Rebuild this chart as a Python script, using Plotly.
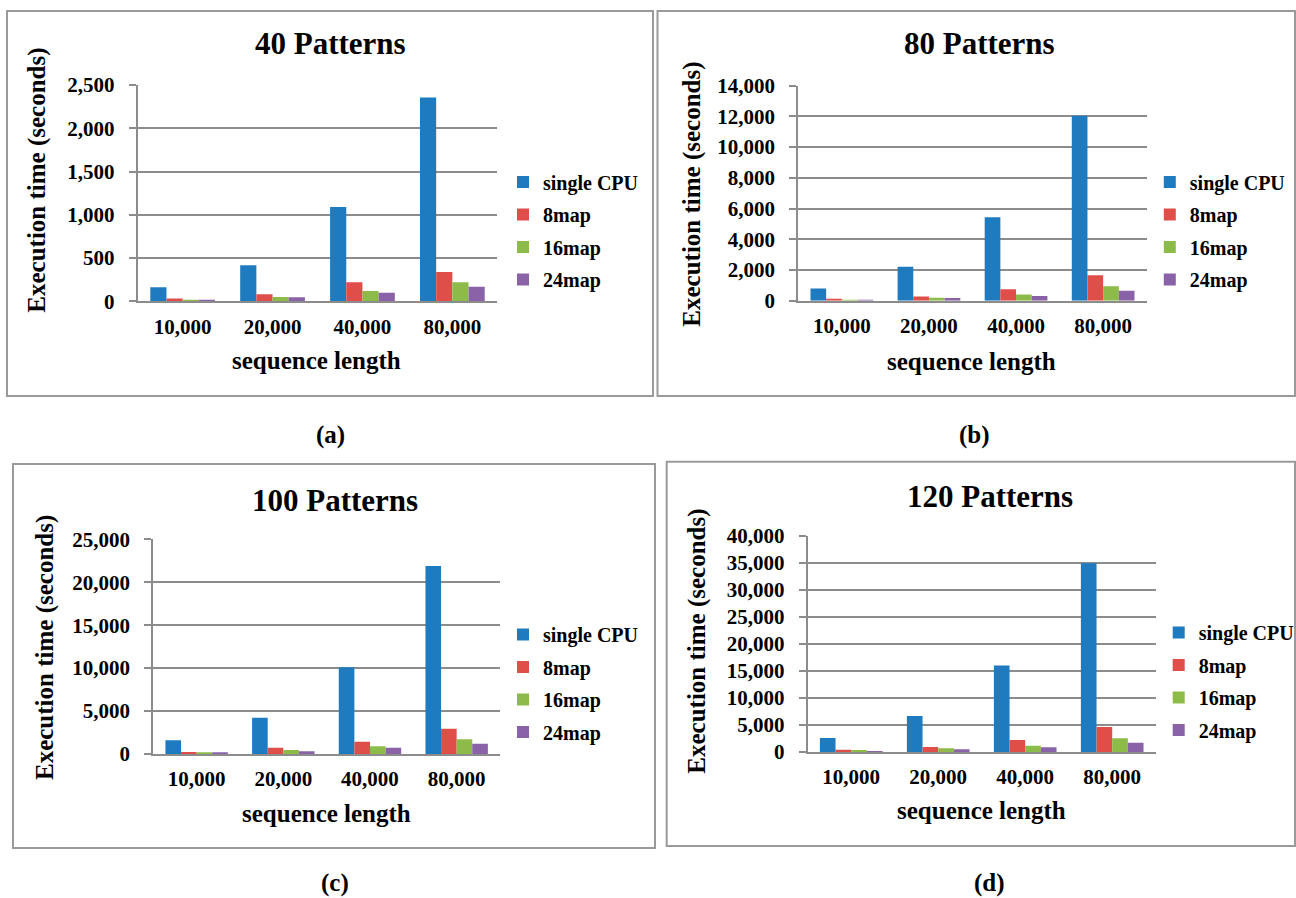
import plotly.graph_objects as go

W, H = 1296, 898

categories = ["10,000", "20,000", "40,000", "80,000"]
series_names = ["single CPU", "8map", "16map", "24map"]
colors = ["#1f7bbf", "#e04e4a", "#8dbb49", "#8962a8"]

titles = ["40 Patterns", "80 Patterns", "100 Patterns", "120 Patterns"]
panel_labels = ["(a)", "(b)", "(c)", "(d)"]
y_title = "Execution time (seconds)"
x_title = "sequence length"

a_cpu = [162, 416, 1090, 2355]
a_8map = [31, 81, 220, 339]
a_16map = [19, 50, 119, 220]
a_24map = [19, 46, 100, 169]

b_cpu = [800, 2210, 5430, 12050]
b_8map = [110, 280, 740, 1650]
b_16map = [65, 195, 410, 935]
b_24map = [30, 175, 305, 650]

c_cpu = [1590, 4230, 10100, 21900]
c_8map = [230, 740, 1440, 2950]
c_16map = [115, 465, 890, 1710]
c_24map = [100, 310, 740, 1200]

d_cpu = [2600, 6670, 16000, 34950]
d_8map = [430, 930, 2220, 4650]
d_16map = [250, 680, 1180, 2550]
d_24map = [80, 500, 860, 1730]

y_max = [2500, 14000, 25000, 40000]
y_step = [500, 2000, 5000, 5000]

panels_data = [
    [a_cpu, a_8map, a_16map, a_24map],
    [b_cpu, b_8map, b_16map, b_24map],
    [c_cpu, c_8map, c_16map, c_24map],
    [d_cpu, d_8map, d_16map, d_24map],
]

# layout geometry in pixels
plot_boxes = [  # x0, x1, ytop, ybottom
    (137.7, 497.3, 85.0, 301.3),
    (798.3, 1146.7, 85.7, 300.7),
    (153.3, 500.0, 539.3, 754.0),
    (807.7, 1155.7, 536.0, 752.0),
]
borders = [
    (7, 653, 11, 396),
    (657.5, 1295, 11, 396),
    (13, 655, 464, 848),
    (666.7, 1295, 461.7, 846),
]
title_pos = [(330.7, 43.3), (979.6, 43.3), (334.6, 500), (989.8, 496.7)]
ytitle_pos = [(36.7, 180), (691.7, 194), (45, 648), (696.7, 641)]
xtitle_pos = [(316.7, 361), (971.7, 361.7), (326.7, 813.3), (981.7, 810.7)]
label_pos = [(330, 435), (975, 435), (335, 883), (990, 883)]
legend_pos = [(543, 181.7), (1189.8, 181.7), (543, 634.3), (1198.7, 632.3)]

FONT = "Liberation Serif, Times New Roman, serif"
GRID = "#8c8c8c"


def px(x):
    return x / W


def py(y):
    return 1 - y / H


fig = go.Figure()
layout = dict(
    width=W, height=H, autosize=False,
    margin=dict(l=0, r=0, t=0, b=0, autoexpand=False),
    paper_bgcolor="white", plot_bgcolor="white",
    bargap=0.28, bargroupgap=0, barmode="group",
    font=dict(family=FONT, color="black"),
)

shapes = []
annotations = []

for i in range(4):
    n = "" if i == 0 else str(i + 1)
    xa, ya = "x" + n, "y" + n
    lg = "legend" if i == 0 else "legend" + str(i + 1)
    for s in range(4):
        fig.add_trace(go.Bar(
            x=categories, y=panels_data[i][s], name=series_names[s],
            marker=dict(color=colors[s], line=dict(width=0)),
            xaxis=xa, yaxis=ya, legend=lg, legendgroup=f"g{i}_{s}",
            showlegend=True,
        ))
    x0, x1, yt, yb = plot_boxes[i]
    layout["xaxis" + n] = dict(
        domain=[px(x0), px(x1)], anchor=ya, automargin=False,
        showline=True, linecolor=GRID, linewidth=2,
        showgrid=False, ticks="", type="category",
        tickfont=dict(family=FONT, size=21, weight="bold", color="black"),
        ticklabelstandoff=5, fixedrange=True,
    )
    layout["yaxis" + n] = dict(
        domain=[py(yb), py(yt)], anchor=xa, automargin=False,
        range=[0, y_max[i]], dtick=y_step[i], tick0=0,
        tickformat=",d",
        showline=True, linecolor=GRID, linewidth=2,
        showgrid=True, gridcolor=GRID, gridwidth=2,
        ticks="outside", ticklen=7, tickcolor=GRID, tickwidth=2,
        tickfont=dict(family=FONT, size=21, weight="bold", color="black"),
        ticklabelstandoff=10, zeroline=False, fixedrange=True,
    )
    lx, ly = legend_pos[i]
    layout[lg] = dict(
        x=px(lx - 40), y=py(ly - 19.3), xanchor="left", yanchor="top",
        font=dict(family=FONT, size=20, weight="bold", color="black"),
        bgcolor="rgba(0,0,0,0)", borderwidth=0,
        traceorder="grouped", tracegroupgap=3.5,
    )
    bx0, bx1, by0, by1 = borders[i]
    shapes.append(dict(type="rect", xref="paper", yref="paper",
                       x0=px(bx0), x1=px(bx1), y0=py(by1), y1=py(by0),
                       line=dict(color="#9a9a9a", width=2), layer="below"))
    tx, ty = title_pos[i]
    annotations.append(dict(text=titles[i], x=px(tx), y=py(ty), xref="paper", yref="paper",
                            showarrow=False, xanchor="center", yanchor="middle",
                            font=dict(family=FONT, size=31, weight="bold", color="black")))
    yx, yy = ytitle_pos[i]
    annotations.append(dict(text=y_title, x=px(yx), y=py(yy), xref="paper", yref="paper",
                            showarrow=False, xanchor="center", yanchor="middle", textangle=-90,
                            font=dict(family=FONT, size=25, weight="bold", color="black")))
    xx, xy = xtitle_pos[i]
    annotations.append(dict(text=x_title, x=px(xx), y=py(xy), xref="paper", yref="paper",
                            showarrow=False, xanchor="center", yanchor="middle",
                            font=dict(family=FONT, size=25, weight="bold", color="black")))
    plx, ply = label_pos[i]
    annotations.append(dict(text=panel_labels[i], x=px(plx), y=py(ply), xref="paper", yref="paper",
                            showarrow=False, xanchor="center", yanchor="middle",
                            font=dict(family=FONT, size=25, weight="bold", color="black")))

layout["shapes"] = shapes
layout["annotations"] = annotations
fig.update_layout(**layout)
fig.write_html(
    "out.html",
    config={"displayModeBar": False},
    post_script="document.body.style.margin='0px';document.body.style.overflow='hidden';",
)
